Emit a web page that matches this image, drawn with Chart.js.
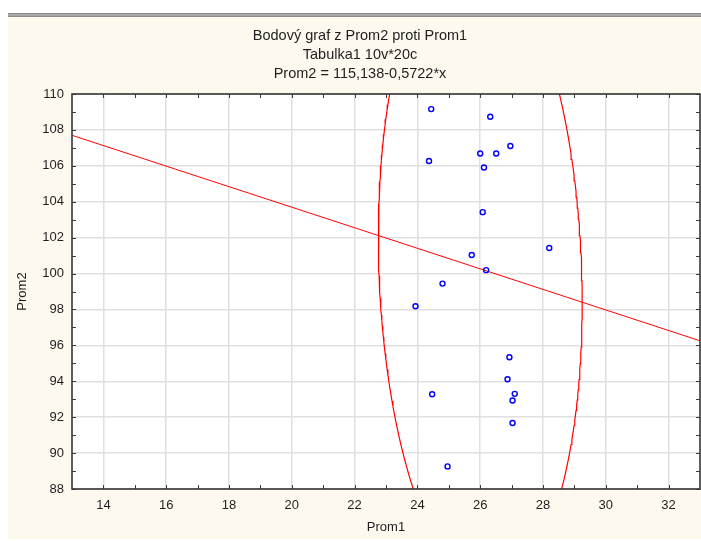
<!DOCTYPE html>
<html>
<head>
<meta charset="utf-8">
<title>Bodový graf z Prom2 proti Prom1</title>
<script src="https://cdn.jsdelivr.net/npm/chart.js@4/dist/chart.umd.min.js"></script>
<style>
  html, body { margin: 0; padding: 0; background: #ffffff; }
  #wrap { width: 701px; height: 541px; position: relative; }
</style>
</head>
<body>
<div id="wrap"><canvas id="chart" width="701" height="541"></canvas></div>
<script>
// ---- data ----
const titleLines = ['Bodový graf z Prom2 proti Prom1', 'Tabulka1 10v*20c', 'Prom2 = 115,138-0,5722*x'];
const xTitle = 'Prom1';
const yTitle = 'Prom2';

const prom1 = [24.44, 26.32, 26.96, 26.00, 26.51, 24.37, 26.12, 26.08, 28.20, 25.73,
               26.19, 24.80, 23.94, 26.93, 26.87, 24.47, 27.10, 27.03, 27.03, 24.96];
const prom2 = [109.16, 108.73, 107.10, 106.69, 106.69, 106.27, 105.91, 103.42, 101.42, 101.03,
               100.19, 99.44, 98.18, 95.34, 94.11, 93.28, 93.30, 92.93, 91.68, 89.26];

// fitted line Prom2 = a + b*Prom1
const fitIntercept = 115.138;
const fitSlope = -0.5722;

const xRange = [13, 33];
const yRange = [88, 110];
const xTicks = [14, 16, 18, 20, 22, 24, 26, 28, 30, 32];
const yTicks = [88, 90, 92, 94, 96, 98, 100, 102, 104, 106, 108, 110];
const xMinorTicks = [15, 17, 19, 21, 23, 25, 27, 29, 31];
const yMinorTicks = [89, 91, 93, 95, 97, 99, 101, 103, 105, 107, 109];

// prediction ellipse level
const ellipseAlpha = 0.05;

// ---- derived series ----
const points = prom1.map((x, i) => ({ x: x, y: prom2[i] }));

const fitLine = xRange.map(x => ({ x: x, y: fitIntercept + fitSlope * x }));

function predictionEllipse(xs, ys, alpha, steps) {
  const n = xs.length;
  const mx = xs.reduce((s, v) => s + v, 0) / n;
  const my = ys.reduce((s, v) => s + v, 0) / n;
  let sxx = 0, syy = 0, sxy = 0;
  for (let i = 0; i < n; i++) {
    const dx = xs[i] - mx, dy = ys[i] - my;
    sxx += dx * dx; syy += dy * dy; sxy += dx * dy;
  }
  sxx /= (n - 1); syy /= (n - 1); sxy /= (n - 1);
  // F(1-alpha; 2, n-2) has a closed form for 2 numerator degrees of freedom
  const f = (n - 2) / 2 * (Math.pow(alpha, -2 / (n - 2)) - 1);
  const k = Math.sqrt(2 * (n + 1) * (n - 1) / (n * (n - 2)) * f);
  // Cholesky factor of the covariance matrix
  const a = Math.sqrt(sxx);
  const b = sxy / a;
  const c = Math.sqrt(syy - b * b);
  const out = [];
  for (let i = 0; i <= steps; i++) {
    const t = 2 * Math.PI * i / steps;
    const u = Math.cos(t), v = Math.sin(t);
    out.push({ x: mx + k * a * u, y: my + k * (b * u + c * v) });
  }
  return out;
}
const ellipse = predictionEllipse(prom1, prom2, ellipseAlpha, 360);

// ---- styling ----
const FONT = '"Liberation Sans", Arial, Helvetica, sans-serif';
const TEXT = '#1f1f1f';
const CREAM = '#fef9ee';

const framePlugin = {
  id: 'frame',
  beforeDraw(chart) {
    const { ctx, width, height, chartArea } = chart;
    ctx.save();
    ctx.fillStyle = '#ffffff';
    ctx.fillRect(0, 0, width, height);
    ctx.fillStyle = CREAM;
    ctx.fillRect(8, 17, width - 8, height - 19);
    ctx.fillStyle = '#8c8c8c';
    ctx.fillRect(8, 13, width - 8, 4);
    ctx.fillStyle = '#c4c4c4';
    ctx.fillRect(8, 14.5, width - 8, 1);
    ctx.fillStyle = '#ffffff';
    ctx.fillRect(chartArea.left, chartArea.top, chartArea.right - chartArea.left, chartArea.bottom - chartArea.top);
    ctx.restore();
  },
  afterDraw(chart) {
    const { ctx, chartArea: ca, scales } = chart;
    const xs = scales.x, ys = scales.y;
    ctx.save();
    // inward tick marks on all four sides
    ctx.strokeStyle = '#3a3a3a';
    ctx.lineWidth = 1;
    const tl = 4;
    ctx.beginPath();
    xTicks.concat(xMinorTicks).forEach(v => {
      const px = Math.round(xs.getPixelForValue(v)) + 0.5;
      ctx.moveTo(px, ca.bottom); ctx.lineTo(px, ca.bottom - tl);
      ctx.moveTo(px, ca.top); ctx.lineTo(px, ca.top + tl);
    });
    yTicks.concat(yMinorTicks).forEach(v => {
      const py = Math.round(ys.getPixelForValue(v)) + 0.5;
      ctx.moveTo(ca.left, py); ctx.lineTo(ca.left + tl, py);
      ctx.moveTo(ca.right, py); ctx.lineTo(ca.right - tl, py);
    });
    ctx.stroke();
    // plot frame
    ctx.lineWidth = 1.6;
    ctx.strokeStyle = '#363636';
    ctx.strokeRect(ca.left, ca.top, ca.right - ca.left, ca.bottom - ca.top);
    // heading
    ctx.fillStyle = TEXT;
    ctx.font = '14.5px ' + FONT;
    ctx.textAlign = 'center';
    ctx.textBaseline = 'middle';
    titleLines.forEach((line, i) => ctx.fillText(line, 360, 36 + i * 19));
    ctx.restore();
  }
};

new Chart(document.getElementById('chart'), {
  type: 'scatter',
  data: {
    datasets: [
      {
        label: 'Prom2 vs Prom1',
        data: points,
        showLine: false,
        pointStyle: 'circle',
        pointRadius: 2.5,
        pointBorderWidth: 1.4,
        borderColor: '#0000ff',
        backgroundColor: 'rgba(255,255,255,0)',
        order: 0
      },
      {
        label: 'Regrese',
        data: fitLine,
        showLine: true,
        pointRadius: 0,
        borderColor: '#ff0000',
        borderWidth: 1,
        order: 1
      },
      {
        label: 'Elipsa',
        data: ellipse,
        showLine: true,
        pointRadius: 0,
        borderColor: '#ff0000',
        borderWidth: 1.2,
        tension: 0,
        order: 2
      }
    ]
  },
  options: {
    responsive: false,
    animation: false,
    events: [],
    layout: { autoPadding: false, padding: { left: 8, top: 94, right: 1, bottom: 0 } },
    plugins: {
      legend: { display: false },
      title: { display: false },
      tooltip: { enabled: false }
    },
    scales: {
      x: {
        type: 'linear',
        min: xRange[0],
        max: xRange[1],
        afterBuildTicks(scale) { scale.ticks = xTicks.map(v => ({ value: v })); },
        afterFit(scale) { scale.height = 52; scale.paddingLeft = 0; scale.paddingRight = 0; },
        grid: { color: '#e0e0e0', lineWidth: 1.5, drawTicks: false },
        border: { display: false },
        ticks: { color: TEXT, font: { family: FONT, size: 13 }, padding: 9, maxRotation: 0, autoSkip: false },
        title: { display: true, text: xTitle, color: TEXT, font: { family: FONT, size: 13 }, padding: { top: 0, bottom: 6 } }
      },
      y: {
        type: 'linear',
        min: yRange[0],
        max: yRange[1],
        afterBuildTicks(scale) { scale.ticks = yTicks.map(v => ({ value: v })); },
        afterFit(scale) { scale.width = 64; },
        grid: { color: '#e0e0e0', lineWidth: 1.5, drawTicks: false },
        border: { display: false },
        ticks: { color: TEXT, font: { family: FONT, size: 13 }, padding: 8, autoSkip: false },
        title: { display: true, text: yTitle, color: TEXT, font: { family: FONT, size: 13 }, padding: { top: 7, bottom: 0 } }
      }
    }
  },
  plugins: [framePlugin]
});
</script>
</body>
</html>
